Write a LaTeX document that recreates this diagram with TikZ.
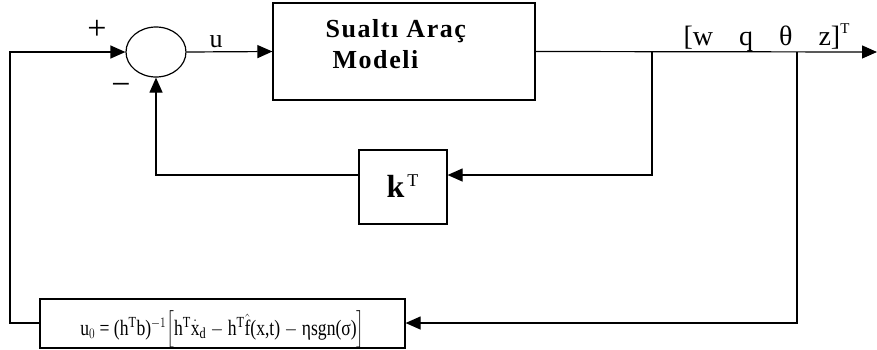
\documentclass[tikz,border=0pt]{standalone}
\usepackage{amsmath}
\usepackage{fontspec}
\setmainfont{Liberation Serif}
\usetikzlibrary{positioning,arrows.meta,shapes.geometric,calc}

\begin{document}
\begin{tikzpicture}[
          x=1pt, y=-1pt,
          line width=1.2pt,
          blk/.style={draw, rectangle, inner sep=0pt},
          sig/.style={-{Triangle[length=15pt,width=13pt]}},
          lbl/.style={font=\fontsize{34}{36}\selectfont},
          plnt/.style={anchor=base west, inner sep=0pt, font=\fontsize{26}{28}\selectfont\bfseries\addfontfeature{LetterSpace=6}}
      ]
        \useasboundingbox (0,0) rectangle (877,349);
        % blocks
        \node[draw, ellipse, minimum width=60pt, minimum height=50pt, inner sep=0pt] (sum) at (156,52) {};
        \node[blk, minimum width=262pt, minimum height=97pt] (plant) at (404,51.5) {};
        \node[blk, minimum width=88pt, minimum height=74pt] (kbox) at (403,187) {};
        \node[blk, minimum width=365pt, minimum height=49pt] (ctrl) at (222.5,323.5) {};
        % texts
        \node[plnt] (plabel) at (325,37) {Sualtı Araç};
        \node[plnt] (plabel2) at (332,68) {Modeli};
        \node[anchor=base west, inner sep=0pt, font=\fontsize{32}{34}\selectfont\bfseries] (klabel) at (386,197) {k\raisebox{11pt}{\fontsize{18}{20}\selectfont\mdseries\,T}};
        \node[anchor=base, inner sep=0pt, font=\fontsize{22}{24}\selectfont] (ulabel) at (222.5,335)
          {\scalebox{0.8}[1]{u$_0$ = (h$^{\mathrm{T}}$b)$^{-1}$$\Big[$h$^{\mathrm{T}}\dot{\mathrm{x}}_{\mathrm{d}}$ $-$ h$^{\mathrm{T}}\hat{\mathrm{f}}$(x,t) $-$ ηsgn(σ)$\Big]$}};
        \node[lbl] (plus) at (97,30) {+};
        \node[lbl] (minus) at (121,89) {−};
        \node[anchor=base, inner sep=0pt, font=\fontsize{26}{28}\selectfont] (u) at (216,47) {u};
        \node[anchor=base west, inner sep=0pt, font=\fontsize{28}{30}\selectfont] (ylabel) at (683,45)
          {[w\hspace{26pt}q\hspace{26pt}θ\hspace{26pt}z]\raisebox{12pt}{\fontsize{15}{16}\selectfont T}};
        % coordinates for lines
        \coordinate (b1) at (652,52);
        \coordinate (b2) at (797,52);
        \coordinate (yout) at (877,52);
        \coordinate (kin) at (652,175);
        \coordinate (kout) at (156,175);
        \coordinate (lft) at (10,323);
        \coordinate (rgt) at (797,323);
        % connectors
        \draw[sig] (sum.east) -- (plant.west);
        \draw[sig] (plant.east) -- (yout);
        \draw[sig] (b1) -- (kin) -- (kin -| kbox.east);
        \draw[sig] (kbox.west |- kout) -- (kout) -- (sum.south);
        \draw[sig] (b2) -- (rgt) -- (ctrl.east |- rgt);
        \draw[sig] (ctrl.west |- lft) -- (lft) |- (sum.west);
      \end{tikzpicture}
\end{document}
